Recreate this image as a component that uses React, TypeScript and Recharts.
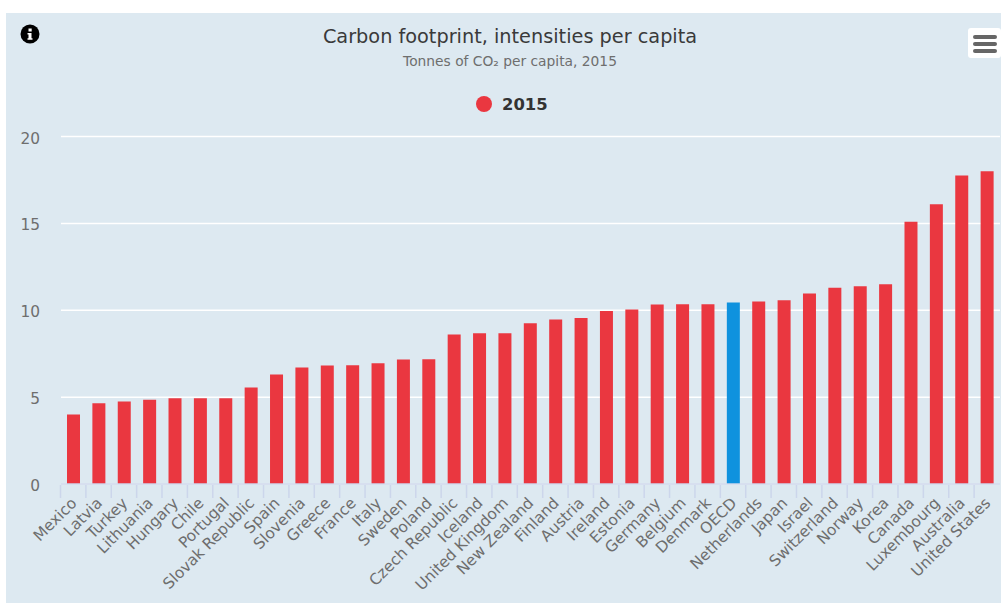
import React from 'react';
import { BarChart, Bar, XAxis, YAxis, CartesianGrid, Cell } from 'recharts';

const countries = [
  'Mexico', 'Latvia', 'Turkey', 'Lithuania', 'Hungary', 'Chile', 'Portugal', 'Slovak Republic', 'Spain',
  'Slovenia', 'Greece', 'France', 'Italy', 'Sweden', 'Poland', 'Czech Republic', 'Iceland', 'United Kingdom',
  'New Zealand', 'Finland', 'Austria', 'Ireland', 'Estonia', 'Germany', 'Belgium', 'Denmark', 'OECD',
  'Netherlands', 'Japan', 'Israel', 'Switzerland', 'Norway', 'Korea', 'Canada', 'Luxembourg', 'Australia',
  'United States',
];
const values2015 = [
  4.0, 4.65, 4.75, 4.85, 4.93, 4.93, 4.93, 5.55, 6.3,
  6.7, 6.82, 6.83, 6.95, 7.17, 7.18, 8.6, 8.67, 8.68,
  9.25, 9.47, 9.55, 9.95, 10.05, 10.33, 10.34, 10.35, 10.45,
  10.5, 10.57, 10.97, 11.3, 11.38, 11.5, 15.1, 16.1, 17.75,
  18.0,
];
const yTicks = [0, 5, 10, 15, 20];

const RED = '#ea3740';
const BLUE = '#0f92de';
const AXIS = '#ccd6eb';
const LABEL = '#6e6e6e';
const FONT = '"DejaVu Sans", sans-serif';

const CHART_W = 1001;
const Y_AXIS_W = 61;
const RIGHT = 1;
const BAND = (CHART_W - Y_AXIS_W - RIGHT) / countries.length;

const data = countries.map((name, i) => ({ name, value: values2015[i] }));

// tick marks sit between the categories, so they are drawn with the label
const CountryTick = ({ x, y, payload }: any) => (
  <g>
    <line x1={x - BAND / 2 - 0.5} x2={x - BAND / 2 - 0.5} y1={y - 1} y2={y + 12} stroke={AXIS} strokeWidth={1.5} />
    <text
      x={0}
      y={0}
      transform={`translate(${x + 4},${y + 18}) rotate(-45)`}
      textAnchor="end"
      fontFamily={FONT}
      fontSize={15.4}
      fill={LABEL}
    >
      {payload.value}
    </text>
  </g>
);

const ValueTick = ({ x, y, payload }: any) => (
  <text x={x - 3} y={y + 7} textAnchor="end" fontFamily={FONT} fontSize={15.4} fill={LABEL}>
    {payload.value}
  </text>
);

const InfoIcon = () => (
  <svg width={20} height={20} style={{ position: 'absolute', left: 20, top: 24 }}>
    <circle cx={10} cy={10} r={9.5} fill="#000000" />
    <rect x={8.5} y={4.5} width={3.2} height={3} fill="#ffffff" />
    <path d="M7.5 9h4v5.2h1v1.6h-5v-1.6h1v-3.6h-1z" fill="#ffffff" />
  </svg>
);

const MenuButton = () => (
  <div
    style={{
      position: 'absolute', left: 968, top: 28, width: 33, height: 30,
      background: '#ffffff', borderRadius: 3,
    }}
  >
    {[7, 14, 21].map(top => (
      <div
        key={top}
        style={{
          position: 'absolute', left: 5, top, width: 24, height: 4,
          background: '#666666', borderRadius: 2,
        }}
      />
    ))}
  </div>
);

export default function App() {
  return (
    <div style={{ position: 'absolute', left: 0, top: 0, width: 1001, height: 603, background: '#ffffff', fontFamily: FONT }}>
      <div style={{ position: 'absolute', left: 6, top: 13, width: 995, height: 590, background: '#dde9f1' }} />
      <div style={{ position: 'absolute', left: 0, top: 0 }}>
        <BarChart
          width={CHART_W}
          height={603}
          data={data}
          margin={{ top: 136.5, right: RIGHT, bottom: 0, left: 0 }}
          barSize={13}
        >
          <CartesianGrid vertical={false} stroke="#ffffff" strokeWidth={1.5} />
          <XAxis
            dataKey="name"
            interval={0}
            height={119}
            axisLine={{ stroke: AXIS, strokeWidth: 1.5 }}
            tickLine={false}
            tickSize={0}
            tick={<CountryTick />}
          />
          <YAxis
            width={Y_AXIS_W}
            domain={[0, 20]}
            ticks={yTicks}
            axisLine={false}
            tickLine={false}
            tickMargin={12}
            tick={<ValueTick />}
          />
          <Bar dataKey="value" isAnimationActive={false}>
            {data.map(d => (
              <Cell key={d.name} fill={d.name === 'OECD' ? BLUE : RED} />
            ))}
          </Bar>
        </BarChart>
      </div>
      <div style={{ position: 'absolute', left: 6, width: 1008, top: 25, textAlign: 'center', fontSize: 19.3, color: '#3a3a3a', whiteSpace: 'nowrap' }}>
        Carbon footprint, intensities per capita
      </div>
      <div style={{ position: 'absolute', left: 6, width: 1008, top: 53, textAlign: 'center', fontSize: 13.8, color: '#6e6e6e', whiteSpace: 'nowrap' }}>
        Tonnes of CO₂ per capita, 2015
      </div>
      <div style={{ position: 'absolute', left: 476, top: 96, width: 16, height: 16, borderRadius: '50%', background: RED }} />
      <div style={{ position: 'absolute', left: 502, top: 95, fontSize: 16.4, fontWeight: 700, color: '#333333' }}>2015</div>
      <InfoIcon />
      <MenuButton />
    </div>
  );
}
